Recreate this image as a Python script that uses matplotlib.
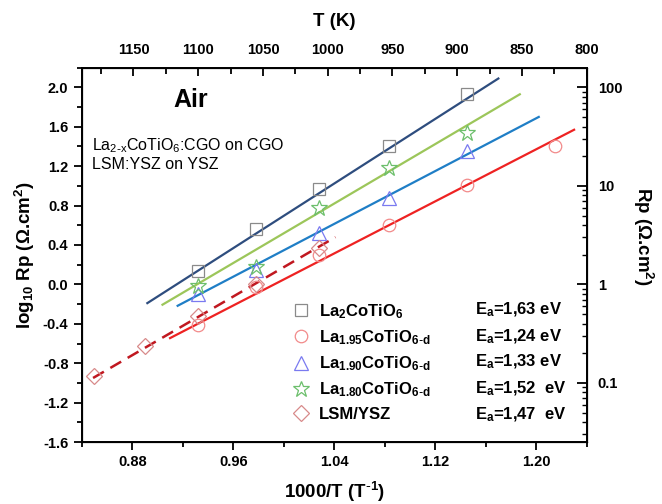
import matplotlib
matplotlib.use('Agg')
import matplotlib.pyplot as plt
from matplotlib.ticker import MultipleLocator, FixedLocator, LogLocator, NullFormatter

plt.rcParams['font.family'] = ['Liberation Sans', 'DejaVu Sans']
plt.rcParams['mathtext.default'] = 'regular'

# measured points (1000/T, log10 Rp)
x_la2 = [0.932, 0.978, 1.028, 1.083, 1.145]
y_la2 = [0.14, 0.56, 0.965, 1.40, 1.93]
x_la195 = [0.932, 0.978, 1.028, 1.083, 1.145, 1.215]
y_la195 = [-0.41, -0.03, 0.30, 0.607, 1.01, 1.40]
x_la190 = [0.932, 0.978, 1.028, 1.083, 1.145]
y_la190 = [-0.10, 0.15, 0.52, 0.88, 1.35]
x_la180 = [0.932, 0.978, 1.028, 1.083, 1.145]
y_la180 = [-0.02, 0.18, 0.776, 1.185, 1.54]
x_lsm = [0.850, 0.8905, 0.932, 0.978, 1.028]
y_lsm = [-0.93, -0.625, -0.325, 0.0, 0.37]

# Arrhenius fit lines (end points)
fit_x_la2 = [0.892, 1.170]
fit_y_la2 = [-0.19, 2.09]
fit_x_la195 = [0.910, 1.230]
fit_y_la195 = [-0.545, 1.57]
fit_x_la190 = [0.916, 1.202]
fit_y_la190 = [-0.217, 1.70]
fit_x_la180 = [0.904, 1.187]
fit_y_la180 = [-0.206, 1.93]
fit_x_lsm = [0.849, 1.041]
fit_y_lsm = [-0.95, 0.48]

labels = [r'La$_2$CoTiO$_6$',
          r'La$_{1.95}$CoTiO$_{6\text{-}d}$',
          r'La$_{1.90}$CoTiO$_{6\text{-}d}$',
          r'La$_{1.80}$CoTiO$_{6\text{-}d}$',
          'LSM/YSZ']
ea_labels = [r'E$_a$=1,63 eV', r'E$_a$=1,24 eV', r'E$_a$=1,33 eV',
             r'E$_a$=1,52  eV', r'E$_a$=1,47  eV']

top_ticks = [1150, 1100, 1050, 1000, 950, 900, 850, 800]

fig = plt.figure(figsize=(6.62, 5.04), dpi=100)
ax = fig.add_axes([0.1234, 0.123, 0.7629, 0.7427])

ax.plot(fit_x_la2, fit_y_la2, color='#2e4d7e', lw=1.6)
ax.plot(fit_x_la180, fit_y_la180, color='#9cc65a', lw=1.6)
ax.plot(fit_x_la190, fit_y_la190, color='#1f7ec6', lw=1.6)
ax.plot(fit_x_la195, fit_y_la195, color='#ee2222', lw=1.6)
ax.plot(fit_x_lsm, fit_y_lsm, color='#c01820', lw=1.8, ls=(0, (5, 3)))

mk = dict(ls='none', mfc='none', mew=0.9)
h1, = ax.plot(x_la2, y_la2, marker='s', ms=8.5, mec='#8a8a8a', **mk)
h2, = ax.plot(x_la195, y_la195, marker='o', ms=9, mec='#f28a8a', **mk)
h3, = ax.plot(x_la190, y_la190, marker='^', ms=10, mec='#7a7af0', **mk)
h4, = ax.plot(x_la180, y_la180, marker='*', ms=12, mec='#6cbf6c', **mk)
h5, = ax.plot(x_lsm, y_lsm, marker='D', ms=8, mec='#d88a8a', **mk)

ax.set_xlim(0.84, 1.24)
ax.set_ylim(-1.6, 2.2)
ax.xaxis.set_major_locator(FixedLocator([0.88, 0.96, 1.04, 1.12, 1.20]))
ax.xaxis.set_minor_locator(FixedLocator([0.84, 0.92, 1.00, 1.08, 1.16, 1.24]))
ax.yaxis.set_major_locator(MultipleLocator(0.4))
ax.yaxis.set_minor_locator(MultipleLocator(0.2))
ax.xaxis.set_major_formatter(matplotlib.ticker.FormatStrFormatter('%.2f'))
ax.yaxis.set_major_formatter(matplotlib.ticker.FormatStrFormatter('%.1f'))
ax.tick_params(which='major', direction='out', length=6, width=1.3, labelsize=10.5)
ax.tick_params(which='minor', direction='out', length=3.5, width=1.3)
for lab in ax.get_xticklabels() + ax.get_yticklabels():
    lab.set_fontweight('bold')
for s in ax.spines.values():
    s.set_linewidth(1.4)

ax.set_xlabel(r'1000/T (T$^{\text{-}1}$)', fontsize=13.5, fontweight='bold', labelpad=8)
ax.set_ylabel('log$_{10}$ Rp (Ω.cm$^2$)', fontsize=13.5, fontweight='bold', labelpad=4)

# right axis: Rp on log scale
ax2 = ax.twinx()
ax2.set_yscale('log')
ax2.set_ylim(10 ** -1.6, 10 ** 2.2)
ax2.yaxis.set_major_locator(FixedLocator([0.1, 1, 10, 100]))
ax2.yaxis.set_major_formatter(matplotlib.ticker.FixedFormatter(['0.1', '1', '10', '100']))
ax2.yaxis.set_minor_locator(LogLocator(base=10, subs=range(2, 10)))
ax2.yaxis.set_minor_formatter(NullFormatter())
ax2.tick_params(which='major', direction='in', length=7, width=1.3, labelsize=10.5, pad=8)
ax2.tick_params(which='minor', direction='in', length=3.5, width=1.0)
for lab in ax2.get_yticklabels():
    lab.set_fontweight('bold')
ax2.set_ylabel('Rp (Ω.cm$^2$)', fontsize=13.5, fontweight='bold', rotation=270)
ax2.yaxis.set_label_coords(1.135, 0.55)

# top axis: temperature
ax3 = ax.twiny()
ax3.set_xlim(1190, 800)
ax3.xaxis.set_major_locator(FixedLocator(top_ticks))
ax3.xaxis.set_minor_locator(MultipleLocator(25))
ax3.tick_params(which='major', direction='in', length=6, width=1.3, labelsize=10.5, pad=8)
ax3.tick_params(which='minor', direction='in', length=4, width=1.3)
for lab in ax3.get_xticklabels():
    lab.set_fontweight('bold')
ax3.set_xlabel('T (K)', fontsize=13.5, fontweight='bold', labelpad=12)

ax.text(0.181, 0.915, 'Air', transform=ax.transAxes, fontsize=18, fontweight='bold',
        va='center', ha='left')
ax.text(0.021, 0.793, r'La$_{2\text{-}x}$CoTiO$_6$:CGO on CGO', transform=ax.transAxes,
        fontsize=11.5, va='center', ha='left')
ax.text(0.021, 0.742, 'LSM:YSZ on YSZ', transform=ax.transAxes,
        fontsize=11.5, va='center', ha='left')

leg = ax.legend([h1, h2, h3, h4, h5], labels, loc='upper left',
                bbox_to_anchor=(0.388, 0.414), frameon=False, handlelength=1.0,
                handletextpad=0.6, labelspacing=0.45, prop={'size': 12, 'weight': 'bold'})

ea_y = [0.353, 0.282, 0.213, 0.143, 0.072]
for lab, yy in zip(ea_labels, ea_y):
    ax.text(0.778, yy, lab, transform=ax.transAxes, fontsize=12, fontweight='bold',
            va='center', ha='left')

fig.savefig('out.png', dpi=100)
